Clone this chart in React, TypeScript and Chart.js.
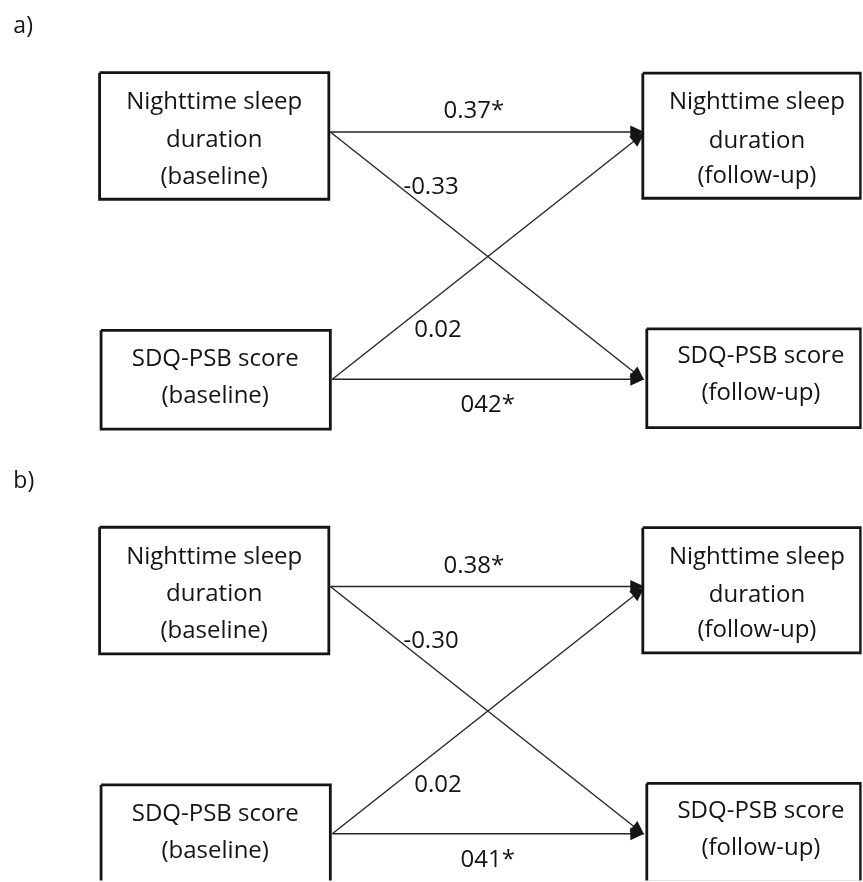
import React, { useEffect, useRef } from 'react';
import { Chart, registerables } from 'chart.js';

Chart.register(...registerables);

// ---------- data ----------
const panelLabels = ['a)', 'b)'];
const nodeLines = [
  ['Nighttime sleep', 'duration', '(baseline)'],
  ['Nighttime sleep', 'duration', '(follow-up)'],
  ['SDQ-PSB score', '(baseline)'],
  ['SDQ-PSB score', '(follow-up)'],
];
const pathFrom = [0, 0, 2, 2];
const pathTo = [1, 3, 1, 3];
const coefficientsA = ['0.37*', '-0.33', '0.02', '042*'];
const coefficientsB = ['0.38*', '-0.30', '0.02', '041*'];
const panelCoefficients = [coefficientsA, coefficientsB];

// ---------- layout (units of the hidden linear scales) ----------
const W = 863;
const H = 882;
const PANEL_OFFSET = [0, 456];
const PANEL_LABEL_POS = [12, 32];
const NODE_BOX = [
  [98.5, 328.5, 71.5, 198.5],
  [643.5, 862, 72, 197.5],
  [100, 330, 330, 429],
  [647.5, 862, 328.5, 427.5],
];
const NODE_TEXT_X = [213.5, 758, 214.5, 762];
const NODE_TEXT_BASE = [
  [108, 146, 183],
  [108, 147, 182],
  [366, 403],
  [363, 400],
];
const NODE_OUT = [[330, 131], null, [332, 379], null];
const NODE_IN = [null, [[645, 131], [645, 132]], null, [[645, 380], [645, 379]]];
const COEF_POS = [
  [474, 117],
  [431, 193],
  [438, 337],
  [488, 412],
];

const INK = '#141414';
const FONT = '"Open Sans", "DejaVu Sans", sans-serif';

function edgeEnd(k: number) {
  const to = pathTo[k];
  const from = pathFrom[k];
  const arr = NODE_IN[to] as number[][];
  return from === 0 ? arr[0] : arr[1];
}

function buildDatasets() {
  const ds: any[] = [];
  panelLabels.forEach((_, p) => {
    const oy = PANEL_OFFSET[p];
    nodeLines.forEach((_, i) => {
      const [x0, x1, y0, y1] = NODE_BOX[i];
      ds.push({
        label: `box-${p}-${i}`,
        data: [
          { x: x0, y: y0 + oy },
          { x: x1, y: y0 + oy },
          { x: x1, y: y1 + oy },
          { x: x0, y: y1 + oy },
          { x: x0, y: y0 + oy },
        ],
        showLine: true,
        borderColor: INK,
        borderWidth: 2.8,
        pointRadius: 0,
        fill: false,
        tension: 0,
        borderJoinStyle: 'miter',
      });
    });
    pathFrom.forEach((f, k) => {
      const s = NODE_OUT[f] as number[];
      const e = edgeEnd(k);
      ds.push({
        label: `edge-${p}-${k}`,
        data: [
          { x: s[0], y: s[1] + oy },
          { x: e[0] - 6, y: e[1] + oy - (e[1] - s[1]) * 6 / (e[0] - s[0]) },
        ],
        showLine: true,
        borderColor: '#262626',
        borderWidth: 1.4,
        pointRadius: 0,
        fill: false,
        tension: 0,
      });
    });
  });
  return ds;
}

const diagramPlugin = {
  id: 'pathDiagram',
  afterDatasetsDraw(chart: any) {
    const { ctx, scales } = chart;
    const xs = scales.x;
    const ys = scales.y;
    const px = (v: number) => xs.getPixelForValue(v);
    const py = (v: number) => ys.getPixelForValue(v);
    ctx.save();
    ctx.fillStyle = INK;
    panelLabels.forEach((lab, p) => {
      const oy = PANEL_OFFSET[p];
      // arrowheads
      pathFrom.forEach((f, k) => {
        const s = NODE_OUT[f] as number[];
        const e = edgeEnd(k);
        const sx = px(s[0]), sy = py(s[1] + oy);
        const ex = px(e[0]), ey = py(e[1] + oy);
        const ang = Math.atan2(ey - sy, ex - sx);
        const len = 14, hw = 6.5;
        ctx.beginPath();
        ctx.moveTo(ex, ey);
        ctx.lineTo(ex - len * Math.cos(ang) + hw * Math.sin(ang), ey - len * Math.sin(ang) - hw * Math.cos(ang));
        ctx.lineTo(ex - len * Math.cos(ang) - hw * Math.sin(ang), ey - len * Math.sin(ang) + hw * Math.cos(ang));
        ctx.closePath();
        ctx.fill();
      });
      // panel label
      ctx.font = `23px ${FONT}`;
      ctx.textAlign = 'left';
      ctx.textBaseline = 'alphabetic';
      ctx.fillText(lab, px(PANEL_LABEL_POS[0]), py(PANEL_LABEL_POS[1] + oy));
      // node texts
      ctx.font = `24px ${FONT}`;
      ctx.textAlign = 'center';
      nodeLines.forEach((lines, i) => {
        lines.forEach((t, j) => {
          ctx.fillText(t, px(NODE_TEXT_X[i]), py(NODE_TEXT_BASE[i][j] + oy));
        });
      });
      // coefficients
      panelCoefficients[p].forEach((c, k) => {
        ctx.fillText(c, px(COEF_POS[k][0]), py(COEF_POS[k][1] + oy));
      });
    });
    ctx.restore();
  },
};

export default function App() {
  const ref = useRef<HTMLCanvasElement | null>(null);
  useEffect(() => {
    if (!ref.current) return;
    const chart = new Chart(ref.current, {
      type: 'scatter',
      data: { datasets: buildDatasets() },
      options: {
        responsive: false,
        animation: false,
        devicePixelRatio: 1,
        layout: { padding: 0 },
        plugins: { legend: { display: false }, tooltip: { enabled: false } },
        scales: {
          x: { type: 'linear', min: 0, max: W, display: false },
          y: { type: 'linear', min: 0, max: H, reverse: true, display: false },
        },
      },
      plugins: [diagramPlugin],
    });
    let alive = true;
    if ((document as any).fonts && (document as any).fonts.load) {
      (document as any).fonts.load(`24px "Open Sans"`).then(() => {
        if (alive) chart.update();
      });
    }
    return () => {
      alive = false;
      chart.destroy();
    };
  }, []);
  return (
    <div style={{ position: 'absolute', left: 0, top: 0, width: W, height: H, background: '#fff' }}>
      <canvas ref={ref} width={W} height={H} style={{ width: W, height: H, display: 'block' }} />
    </div>
  );
}
